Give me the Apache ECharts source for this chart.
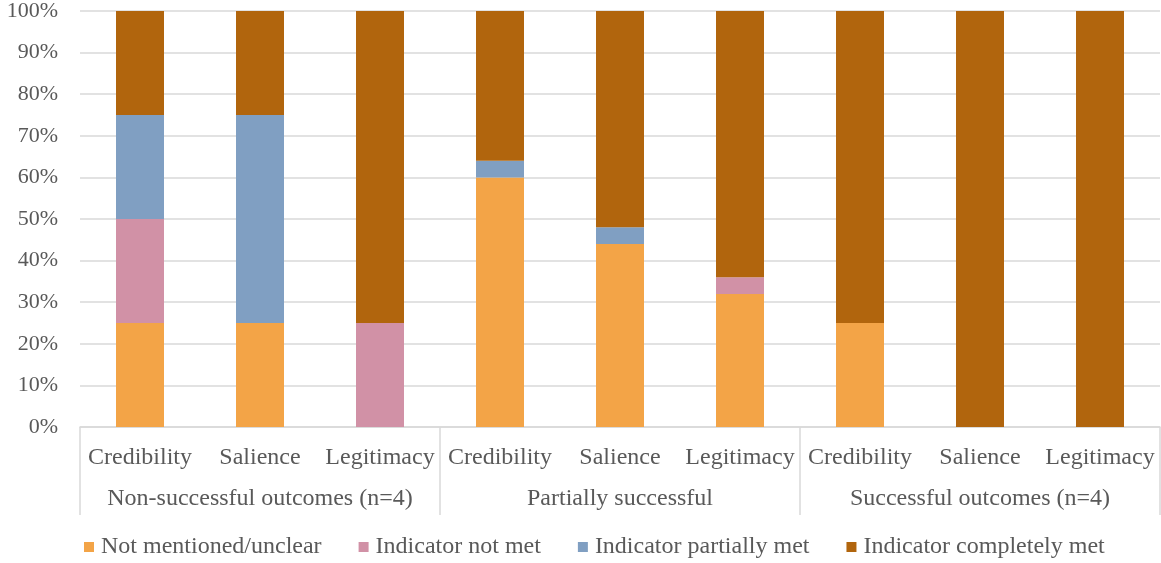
<!DOCTYPE html>
<html>
	<head>
		<meta charset="UTF-8">
		<title>Indicators by outcome</title>
		<script src="https://cdn.jsdelivr.net/npm/echarts@6/dist/echarts.min.js"></script>
		<style>
			html, body { margin: 0; padding: 0; background: #fff; }
		</style>
	</head>
	<body>
		<div id="bar" style="width:1161px; height:563px;"></div>
		<script>
			var categories = ['Credibility', 'Salience', 'Legitimacy', 'Credibility', 'Salience', 'Legitimacy', 'Credibility', 'Salience', 'Legitimacy'];
			var groups = ['Non-successful outcomes (n=4)', 'Partially successful', 'Successful outcomes (n=4)'];
			var yTicks = [0, 10, 20, 30, 40, 50, 60, 70, 80, 90, 100];

			var notMentioned = [25, 25, 0, 60, 44, 32, 25, 0, 0];
			var notMet = [25, 0, 25, 0, 0, 4, 0, 0, 0];
			var partiallyMet = [25, 50, 0, 4, 4, 0, 0, 0, 0];
			var completelyMet = [25, 25, 75, 36, 52, 64, 75, 100, 100];

			var font = 'Liberation Serif, Times New Roman, serif';
			var textColor = '#595959';

			function bar(name, data, color) {
				return {
					name: name,
					type: 'bar',
					stack: 'total',
					barWidth: 48,
					data: data,
					itemStyle: { color: color },
					emphasis: { disabled: true }
				};
			}

			var chart = echarts.init(document.getElementById('bar'), null, { renderer: 'canvas' });
			chart.setOption({
				animation: false,
				grid: { left: 80, right: 1, top: 11, bottom: 136 },
				legend: {
					left: 84,
					top: 535,
					padding: 0,
					itemWidth: 10,
					itemHeight: 10,
					itemGap: 37,
					icon: 'rect',
					textStyle: { fontFamily: font, fontSize: 24, color: textColor, padding: [0, 0, 0, 2] },
					data: ['Not mentioned/unclear', 'Indicator not met', 'Indicator partially met', 'Indicator completely met']
				},
				xAxis: [{
					type: 'category',
					data: categories,
					axisLine: { lineStyle: { color: '#d9d9d9', width: 1.5 } },
					axisTick: { show: false },
					axisLabel: { margin: 19, fontFamily: font, fontSize: 24, color: textColor, interval: 0 }
				}, {
					type: 'category',
					position: 'bottom',
					data: groups,
					axisLine: { show: false },
					axisTick: { show: true, length: 88, lineStyle: { color: '#d9d9d9', width: 1.5 } },
					axisLabel: { margin: 60, fontFamily: font, fontSize: 24, color: textColor, interval: 0 }
				}],
				yAxis: {
					type: 'value',
					min: yTicks[0],
					max: yTicks[yTicks.length - 1],
					interval: 10,
					axisLine: { show: false },
					axisTick: { show: false },
					splitLine: { lineStyle: { color: '#d9d9d9', width: 1.5 } },
					axisLabel: { margin: 22, fontFamily: font, fontSize: 22, color: textColor, formatter: '{value}%' }
				},
				series: [
					bar('Not mentioned/unclear', notMentioned, '#F3A447'),
					bar('Indicator not met', notMet, '#D191A6'),
					bar('Indicator partially met', partiallyMet, '#809FC2'),
					bar('Indicator completely met', completelyMet, '#B1650D')
				]
			});
		</script>
	</body>
</html>
